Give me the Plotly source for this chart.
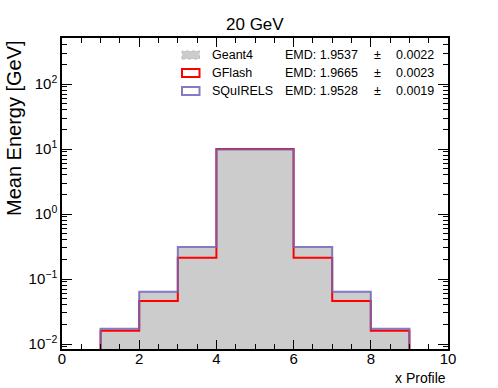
import plotly.graph_objects as go

# ---- data ----
bin_edges = [1, 2, 3, 4, 5, 6, 7, 8, 9]
bin_centers = [1.5, 2.5, 3.5, 4.5, 5.5, 6.5, 7.5, 8.5]
geant4 = [0.0168, 0.062, 0.30, 9.75, 9.75, 0.30, 0.062, 0.0168]
gflash = [0.0160, 0.0460, 0.213, 10.0, 10.0, 0.213, 0.0460, 0.0160]
squirels = [0.0172, 0.0635, 0.312, 9.8, 9.8, 0.312, 0.0635, 0.0172]

names = ["Geant4", "GFlash", "SQuIRELS"]
emd_vals = ["1.9537", "1.9665", "1.9528"]
emd_errs = ["0.0022", "0.0023", "0.0019"]

ytick_vals = [0.01, 0.1, 1, 10, 100]
ytick_text = ["10<sup>\u22122</sup>", "10<sup>\u22121</sup>", "10<sup>0</sup>",
              "10<sup>1</sup>", "10<sup>2</sup>"]

title = "20 GeV"
xtitle = "x Profile"
ytitle = "Mean Energy [GeV]"

# ---- layout geometry (pixels) ----
W, H = 498, 388
L, R, T, B = 62, 448, 38, 349
FONT = "Liberation Sans, Arial, Helvetica, sans-serif"

def px(x):
    return (x - L) / (R - L)

def py(y):
    return (B - y) / (B - T)

def step_xy(vals, floor=1e-4):
    xs = [bin_edges[0]] + bin_edges[:-1] + [bin_edges[-1], bin_edges[-1]]
    ys = [floor] + list(vals) + [vals[-1], floor]
    return xs, ys

BLUE = "rgba(110,100,185,0.85)"

fig = go.Figure()
fig.add_trace(go.Bar(x=bin_centers, y=geant4, width=1.0,
                     marker=dict(color="#cccccc", line=dict(width=0)),
                     showlegend=False))
xs, ys = step_xy(gflash)
fig.add_trace(go.Scatter(x=xs, y=ys, mode="lines", line_shape="hv",
                         line=dict(color="#ff0000", width=2), showlegend=False))
xs, ys = step_xy(squirels)
fig.add_trace(go.Scatter(x=xs, y=ys, mode="lines", line_shape="hv",
                         line=dict(color=BLUE, width=2), showlegend=False))

axis_common = dict(showgrid=False, zeroline=False, showline=True, linecolor="black",
                   linewidth=1.5, mirror="allticks", ticks="inside", automargin=False,
                   tickcolor="black", tickfont=dict(family=FONT, size=15, color="black"))

fig.update_layout(
    width=W, height=H,
    margin=dict(l=L, r=W - R, t=T, b=H - B, autoexpand=False),
    plot_bgcolor="white", paper_bgcolor="white",
    bargap=0,
    showlegend=False,
    xaxis=dict(range=[0, 10], dtick=2, ticklen=9, ticklabelstandoff=-5,
               minor=dict(dtick=0.5, ticks="inside", ticklen=5, tickcolor="black"),
               **axis_common),
    yaxis=dict(type="log", range=[-2.077, 2.708], ticklen=10,
               tickmode="array", tickvals=ytick_vals, ticktext=ytick_text,
               minor=dict(dtick="D1", ticks="inside", ticklen=5, tickcolor="black"),
               **axis_common),
)

ann = []
ann.append(dict(text=title, x=0.5, y=py(24), xref="paper", yref="paper",
                showarrow=False, font=dict(family=FONT, size=17, color="black"),
                xanchor="center", yanchor="middle"))
ann.append(dict(text=xtitle, x=1.0, y=py(378), xref="paper", yref="paper",
                showarrow=False, font=dict(family=FONT, size=14, color="black"),
                xanchor="right", yanchor="middle"))
ann.append(dict(text=ytitle, x=px(14), y=1.0, xref="paper", yref="paper",
                showarrow=False, textangle=-90,
                font=dict(family=FONT, size=20, color="black"),
                xanchor="center", yanchor="top"))

row_y = [55, 73, 91]
box_styles = [
    dict(fillcolor="#cccccc", line=dict(color="#bbbbbb", width=1, dash="dot")),
    dict(fillcolor="rgba(0,0,0,0)", line=dict(color="#ff0000", width=2)),
    dict(fillcolor="rgba(0,0,0,0)", line=dict(color=BLUE, width=2)),
]
shapes = []
lf = dict(family=FONT, size=12.5, color="black")
for i in range(3):
    yc = row_y[i]
    shapes.append(dict(type="rect", xref="paper", yref="paper",
                       x0=px(182), x1=px(199.5), y0=py(yc + 4), y1=py(yc - 4),
                       **box_styles[i]))
    ann.append(dict(text=names[i], x=px(210), y=py(yc), xref="paper", yref="paper",
                    showarrow=False, font=lf, xanchor="left", yanchor="middle"))
    ann.append(dict(text="EMD: " + emd_vals[i], x=px(283), y=py(yc), xref="paper",
                    yref="paper", showarrow=False, font=lf, xanchor="left",
                    yanchor="middle"))
    ann.append(dict(text="±", x=px(377), y=py(yc), xref="paper", yref="paper",
                    showarrow=False, font=lf, xanchor="center", yanchor="middle"))
    ann.append(dict(text=emd_errs[i], x=px(436), y=py(yc), xref="paper", yref="paper",
                    showarrow=False, font=lf, xanchor="right", yanchor="middle"))

fig.update_layout(annotations=ann, shapes=shapes)
fig.write_html("out.html", config={"displayModeBar": False},
               post_script="document.body.style.margin='0';document.body.style.overflow='hidden';")
